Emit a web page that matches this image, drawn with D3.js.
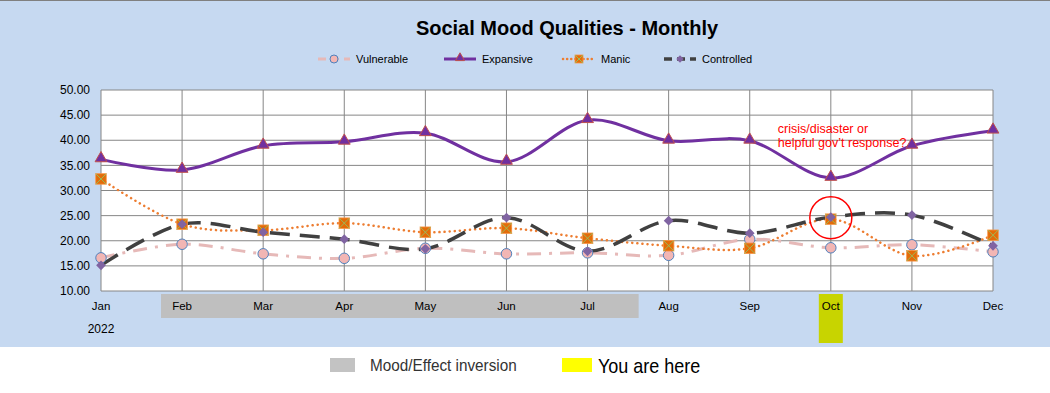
<!DOCTYPE html>
<html>
<head>
<meta charset="utf-8">
<script src="https://cdn.jsdelivr.net/npm/d3@7"></script>
<style>
  body { margin: 0; background: #fff; }
  svg text { font-family: "Liberation Sans", Arial, sans-serif; }
</style>
</head>
<body>
<svg width="1050" height="393"></svg>
<script>
// data
let months = ["Jan", "Feb", "Mar", "Apr", "May", "Jun", "Jul", "Aug", "Sep", "Oct", "Nov", "Dec"];
let vulnerable = [16.6, 19.3, 17.4, 16.5, 18.5, 17.4, 17.6, 17.1, 20.3, 18.6, 19.2, 17.8];
let expansive = [36.2, 34.1, 38.9, 39.7, 41.4, 35.7, 44.0, 39.9, 39.9, 32.5, 38.9, 41.9];
let manic = [32.3, 23.3, 22.1, 23.5, 21.7, 22.5, 20.5, 19.0, 18.5, 24.3, 17.0, 21.1];
let controlled = [15.1, 23.3, 21.7, 20.3, 18.4, 24.6, 17.9, 24.0, 21.5, 24.7, 25.1, 19.0];
let yTicks = [10, 15, 20, 25, 30, 35, 40, 45, 50];
let inversionMonths = ["Jan", "Jul"];   // grey band spans between these (offset into the gaps)
let currentMonth = "Oct";

let svg = d3.select("svg"),
    margin = { top: 90, right: 57, bottom: 102, left: 101 },
    width = 1050 - margin.left - margin.right,
    height = 393 - margin.top - margin.bottom;

// light blue background of the chart area
svg.append("rect").attr("width", 1050).attr("height", 347).attr("fill", "#C6D9F1");
svg.append("line").attr("x1", 0).attr("x2", 1050).attr("y1", 0.5).attr("y2", 0.5)
    .attr("stroke", "#808080").attr("stroke-width", 1);

let x = d3.scalePoint().domain(months).range([0, width]);
let y = d3.scaleLinear().domain([10, 50]).range([height, 0]);
let step = x.step();

let g = svg.append("g").attr("transform", "translate(" + margin.left + "," + margin.top + ")");

// grey "Mood/Effect inversion" band and yellow "you are here" band behind labels
let bandL = x(inversionMonths[0]) + step * 0.74,
    bandR = x(inversionMonths[1]) + step * 0.63;
g.append("rect")
    .attr("x", bandL)
    .attr("width", bandR - bandL)
    .attr("y", height + 3)
    .attr("height", 24)
    .attr("fill", "#BFBFBF");
g.append("rect")
    .attr("x", x(currentMonth) - 12)
    .attr("width", 24)
    .attr("y", height + 3)
    .attr("height", 49)
    .attr("fill", "#C8D400");

// plot background
g.append("rect").attr("width", width).attr("height", height).attr("fill", "#fff");

// grid
g.selectAll(".hgrid").data(yTicks).enter().append("line")
    .attr("x1", 0).attr("x2", width)
    .attr("y1", d => y(d)).attr("y2", d => y(d))
    .attr("stroke", "#868686").attr("stroke-width", 1);
g.selectAll(".vgrid").data(months).enter().append("line")
    .attr("x1", d => x(d)).attr("x2", d => x(d))
    .attr("y1", 0).attr("y2", height)
    .attr("stroke", "#868686").attr("stroke-width", 1);

// y axis labels
g.selectAll(".ylab").data(yTicks).enter().append("text")
    .attr("x", -11).attr("y", d => y(d)).attr("dy", "0.35em")
    .attr("text-anchor", "end").attr("font-size", 12).attr("fill", "#000")
    .text(d => d.toFixed(2));

// x axis labels
g.selectAll(".xlab").data(months).enter().append("text")
    .attr("x", d => x(d)).attr("y", height + 19)
    .attr("text-anchor", "middle").attr("font-size", 11.5).attr("fill", "#000")
    .text(d => d);
g.append("text").attr("x", 0).attr("y", height + 42)
    .attr("text-anchor", "middle").attr("font-size", 12).text("2022");

let line = d3.line()
    .x((d, i) => x(months[i]))
    .y(d => y(d))
    .curve(d3.curveCardinal.tension(0));

let series = [
    { name: "Vulnerable", values: vulnerable, stroke: "#E6B9B8", width: 3, dash: "14,8,3,8", marker: "circle", fill: "#F2B6B4", mstroke: "#4F81BD" },
    { name: "Expansive", values: expansive, stroke: "#7030A0", width: 3, dash: null, marker: "triangle", fill: "#7030A0", mstroke: "#C0504D" },
    { name: "Manic", values: manic, stroke: "#ED7D31", width: 2.5, dash: "0.1,5", cap: "round", marker: "square", fill: "#E36C09", mstroke: "#9BBB59" },
    { name: "Controlled", values: controlled, stroke: "#404040", width: 3.5, dash: "20,10", marker: "diamond", fill: "#8064A2", mstroke: "#8064A2" }
];

function drawMarker(sel, s, size) {
    if (s.marker === "circle") {
        sel.append("circle").attr("r", size * 0.5)
            .attr("fill", s.fill).attr("stroke", s.mstroke).attr("stroke-width", 1);
    } else if (s.marker === "triangle") {
        sel.append("path").attr("d", d3.symbol(d3.symbolTriangle, size * size * 0.55)())
            .attr("transform", "translate(0,-1)")
            .attr("fill", s.fill).attr("stroke", s.mstroke).attr("stroke-width", 1);
    } else if (s.marker === "square") {
        let h = size * 0.5;
        sel.append("rect").attr("x", -h).attr("y", -h).attr("width", size).attr("height", size)
            .attr("fill", s.fill).attr("stroke", "#F79646").attr("stroke-width", 0.8);
        sel.append("path").attr("d", "M" + (-h) + "," + (-h) + "L" + h + "," + h + "M" + h + "," + (-h) + "L" + (-h) + "," + h)
            .attr("stroke", s.mstroke).attr("stroke-width", 1);
    } else {
        sel.append("path").attr("d", d3.symbol(d3.symbolDiamond2, size * size * 0.55)())
            .attr("fill", s.fill);
    }
}

series.forEach(function (s) {
    g.append("path")
        .attr("d", line(s.values))
        .attr("fill", "none")
        .attr("stroke", s.stroke)
        .attr("stroke-width", s.width)
        .attr("stroke-dasharray", s.dash)
        .attr("stroke-linecap", s.cap || "butt");
});
series.forEach(function (s) {
    g.selectAll(null).data(s.values).enter().append("g")
        .attr("transform", (d, i) => "translate(" + x(months[i]) + "," + y(d) + ")")
        .each(function () { drawMarker(d3.select(this), s, 10.5); });
});

// annotation
g.append("circle")
    .attr("cx", x(currentMonth)).attr("cy", y(controlled[9]) + 0.5).attr("r", 21)
    .attr("fill", "none").attr("stroke", "#FF0000").attr("stroke-width", 1.5);
g.append("text").attr("x", x(currentMonth) - 53).attr("y", y(40) - 7)
    .attr("font-size", 12.5).attr("fill", "#FF0000").text("crisis/disaster or");
g.append("text").attr("x", x(currentMonth) - 53).attr("y", y(40) + 7)
    .attr("font-size", 12.5).attr("fill", "#FF0000").text("helpful gov\u2019t response?");

// title
svg.append("text").attr("x", 567).attr("y", 35)
    .attr("text-anchor", "middle").attr("font-size", 20).attr("font-weight", "bold")
    .text("Social Mood Qualities - Monthly");

// series legend
let legendX = [318, 444, 563, 664];
series.forEach(function (s, i) {
    let lg = svg.append("g").attr("transform", "translate(" + legendX[i] + ",59)");
    lg.append("line").attr("x1", 0).attr("x2", 32).attr("y1", 0).attr("y2", 0)
        .attr("stroke", s.stroke).attr("stroke-width", s.width)
        .attr("stroke-dasharray", s.dash ? (s.marker === "square" ? "0.1,4" : "8,5") : null)
        .attr("stroke-linecap", s.cap || "butt");
    let m = lg.append("g").attr("transform", "translate(16,0)");
    drawMarker(m, s, 8);
    lg.append("text").attr("x", 38).attr("y", 0).attr("dy", "0.35em")
        .attr("font-size", 11).text(s.name);
});

// bottom legend
svg.append("rect").attr("x", 330).attr("y", 358).attr("width", 25).attr("height", 14).attr("fill", "#C3C3C3");
svg.append("text").attr("transform", "translate(370,371) scale(0.9,1)").attr("font-size", 17).attr("fill", "#333")
    .text("Mood/Effect inversion");
svg.append("rect").attr("x", 562).attr("y", 358).attr("width", 30).attr("height", 14).attr("fill", "#FFFF00");
svg.append("text").attr("transform", "translate(598,373) scale(0.9,1)").attr("font-size", 20).attr("fill", "#000")
    .text("You are here");
</script>
</body>
</html>
